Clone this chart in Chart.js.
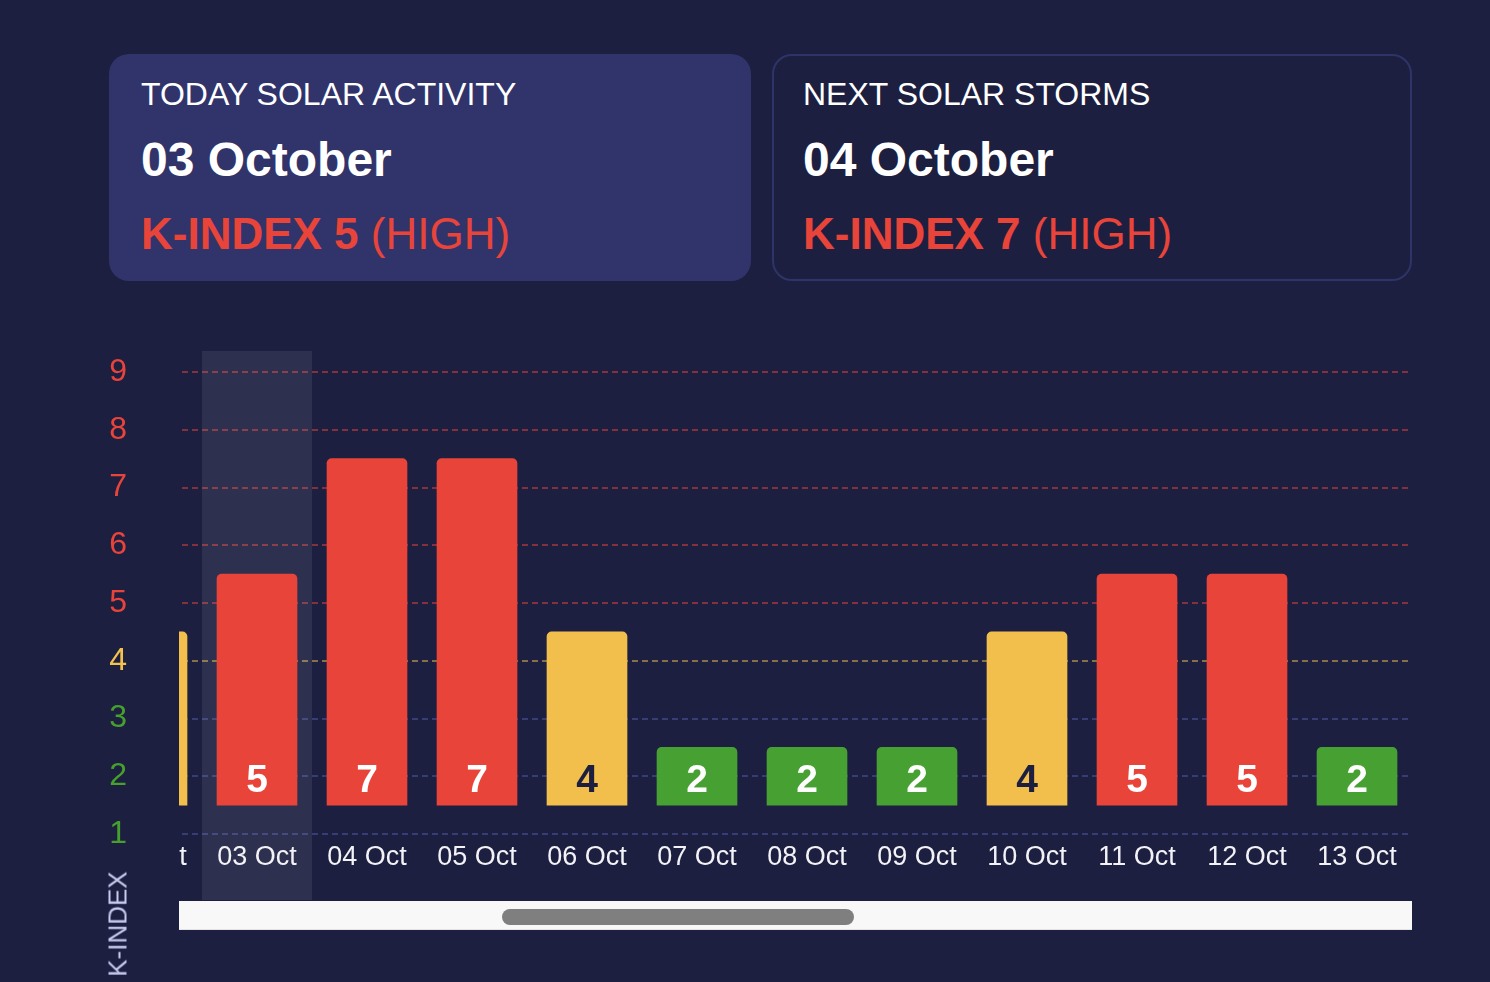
<!DOCTYPE html>
<html>
<head>
<meta charset="utf-8">
<script src="https://cdn.jsdelivr.net/npm/chart.js@4"></script>
<style>
  html, body { margin:0; padding:0; width:1490px; height:982px; overflow:hidden; background:#1d1f40; font-family:'Liberation Sans', Arial, Helvetica, sans-serif; }
  .card { position:absolute; top:54px; height:227px; box-sizing:border-box; border-radius:20px; }
  #card1 { left:109px; width:642px; background:#30346a; }
  #card2 { left:772px; width:640px; border:2px solid #2f3468; }
  .l1 { position:absolute; left:32px; top:24px; font-size:32px; line-height:32px; color:#ffffff; white-space:nowrap; }
  .l2 { position:absolute; left:32px; top:82px; font-size:48px; line-height:48px; font-weight:bold; color:#ffffff; white-space:nowrap; }
  .l3 { position:absolute; left:32px; top:158px; font-size:44px; line-height:44px; color:#e8443a; white-space:nowrap; }
  #card2 .l1 { left:29px; top:22px; } #card2 .l2 { left:29px; top:80px; } #card2 .l3 { left:29px; top:156px; }
  .l3 b { font-weight:bold; }
  #yWrap { position:absolute; left:40px; top:351px; width:139px; height:549px; }
  #clip { position:absolute; left:179px; top:351px; width:1233px; height:549px; overflow:hidden; }
  #inner { position:absolute; left:-87px; top:0; width:1320px; height:549px; }
  #ytitle { position:absolute; left:118px; top:924px; transform:translate(-50%,-50%) rotate(-90deg); font-size:26px; color:#c8cbf0; white-space:nowrap; }
  #track { position:absolute; left:179px; top:901px; width:1233px; height:29px; background:#f8f8f8; border-bottom:1px solid #e4e4e4; box-sizing:border-box; }
  #thumb { position:absolute; left:323px; top:8px; width:352px; height:16px; border-radius:8px; background:#7f7f7f; }
</style>
</head>
<body>
<div class="card" id="card1">
  <div class="l1">TODAY SOLAR ACTIVITY</div>
  <div class="l2">03 October</div>
  <div class="l3"><b>K-INDEX 5</b> (HIGH)</div>
</div>
<div class="card" id="card2">
  <div class="l1">NEXT SOLAR STORMS</div>
  <div class="l2">04 October</div>
  <div class="l3"><b>K-INDEX 7</b> (HIGH)</div>
</div>

<div id="yWrap"><canvas id="yChart"></canvas></div>
<div id="clip"><div id="inner"><canvas id="mainChart"></canvas></div></div>
<div id="ytitle">K-INDEX</div>
<div id="track"><div id="thumb"></div></div>

<script>
// ---- data ----
const days = ['02 Oct','03 Oct','04 Oct','05 Oct','06 Oct','07 Oct','08 Oct','09 Oct','10 Oct','11 Oct','12 Oct','13 Oct'];
const kIndex = [4, 5, 7, 7, 4, 2, 2, 2, 4, 5, 5, 2];
const todayLabel = '03 Oct';
const yTicks = [1, 2, 3, 4, 5, 6, 7, 8, 9];

// ---- styling helpers ----
const RED = '#e8443a', YELLOW = '#f2bf4d', GREEN = '#47a032';
function levelColor(v) { return v >= 5 ? RED : (v >= 4 ? YELLOW : GREEN); }
function tickColor(v) { return v >= 5 ? '#e8443a' : (v >= 4 ? '#f2c14e' : '#45a02c'); }
function gridColor(v) { return v >= 5 ? 'rgba(232,67,58,0.5)' : (v >= 4 ? 'rgba(242,193,78,0.5)' : 'rgba(80,86,160,0.55)'); }

Chart.defaults.font.family = "'Liberation Sans', Arial, Helvetica, sans-serif";
Chart.defaults.animation = false;

const yScaleBase = { min: 1, max: 9 };

const highlightPlugin = {
  id: 'todayHighlight',
  beforeDatasetsDraw(chart) {
    const xs = chart.scales.x;
    const i = days.indexOf(todayLabel);
    const cx = xs.getPixelForValue(i);
    const w = xs.getPixelForValue(1) - xs.getPixelForValue(0);
    const ctx = chart.ctx;
    ctx.save();
    ctx.fillStyle = 'rgba(255,255,255,0.08)';
    ctx.fillRect(cx - w / 2, 0, w, chart.height);
    ctx.restore();
  }
};

const valueLabelPlugin = {
  id: 'valueLabels',
  afterDatasetsDraw(chart) {
    const ctx = chart.ctx;
    const meta = chart.getDatasetMeta(0);
    ctx.save();
    ctx.font = "bold 39px 'Liberation Sans', Arial, sans-serif";
    ctx.textAlign = 'center';
    ctx.textBaseline = 'alphabetic';
    meta.data.forEach((bar, i) => {
      const v = kIndex[i];
      ctx.fillStyle = v === 4 ? '#1d1f40' : '#ffffff';
      ctx.fillText(String(v), bar.x, bar.base - 13);
    });
    ctx.restore();
  }
};

new Chart(document.getElementById('mainChart'), {
  type: 'bar',
  data: {
    labels: days,
    datasets: [{
      data: kIndex.map(v => [1.5, v + 0.5]),
      backgroundColor: kIndex.map(levelColor),
      barThickness: 80,
      borderRadius: { topLeft: 5, topRight: 5, bottomLeft: 0, bottomRight: 0 },
      borderSkipped: false
    }]
  },
  options: {
    responsive: true,
    maintainAspectRatio: false,
    layout: { padding: { top: 21, left: 0, right: 0, bottom: 0 } },
    plugins: { legend: { display: false }, tooltip: { enabled: false } },
    scales: {
      x: {
        grid: { display: false },
        border: { display: false },
        ticks: { color: '#f2f2f7', font: { size: 27 }, padding: -1, autoSkip: false, maxRotation: 0 },
        afterFit(s) { s.height = 66; }
      },
      y: {
        ...yScaleBase,
        ticks: { display: false, stepSize: 1 },
        border: { display: false, dash: [6, 4] },
        grid: {
          drawTicks: false,
          lineWidth: 2,
          color: c => gridColor(c.tick.value)
        },
        afterFit(s) { s.width = 0; },
        afterBuildTicks(s) { s.ticks = yTicks.map(v => ({ value: v })); }
      }
    }
  },
  plugins: [highlightPlugin, valueLabelPlugin]
});

new Chart(document.getElementById('yChart'), {
  type: 'bar',
  data: { labels: days, datasets: [{ data: [] }] },
  options: {
    responsive: true,
    maintainAspectRatio: false,
    layout: { padding: { top: 21, left: 0, right: 0, bottom: 0 } },
    plugins: { legend: { display: false }, tooltip: { enabled: false } },
    scales: {
      x: {
        grid: { display: false },
        border: { display: false },
        ticks: { display: false },
        afterFit(s) { s.height = 66; }
      },
      y: {
        ...yScaleBase,
        grid: { display: false },
        border: { display: false },
        ticks: {
          stepSize: 1,
          padding: 2,
          font: { size: 32, lineHeight: 0.3 },
          color: c => tickColor(c.tick.value)
        },
        afterFit(s) { s.width = 97; },
        afterBuildTicks(s) { s.ticks = yTicks.map(v => ({ value: v })); }
      }
    }
  }
});
</script>
</body>
</html>
